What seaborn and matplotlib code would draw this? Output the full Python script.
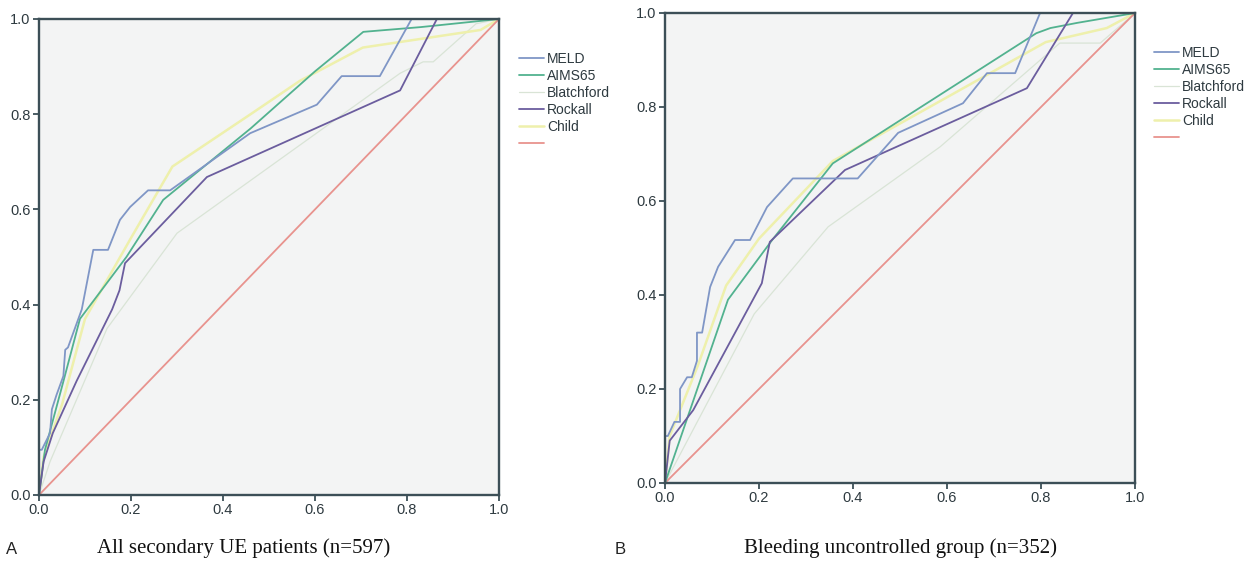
import matplotlib
matplotlib.use("Agg")
import matplotlib.pyplot as plt
import pandas as pd
import seaborn as sns

# ROC curves: (1 - specificity, sensitivity)
curve_names = ["MELD", "AIMS65", "Blatchford", "Rockall", "Child", ""]
curve_colors = ["#7f96c6", "#52b28f", "#d9e4d6", "#6b5d9e", "#eef0ac", "#e8938e"]
curve_widths = [1.3, 1.3, 0.9, 1.3, 1.8, 1.3]

# Panel A: all secondary UE patients
meld_a_fpr = [0, 0, 0.006, 0.024, 0.028, 0.038, 0.053, 0.057, 0.063, 0.093, 0.118, 0.15,
              0.176, 0.198, 0.237, 0.285, 0.459, 0.604, 0.658, 0.741, 0.81, 1.0]
meld_a_tpr = [0, 0.095, 0.095, 0.13, 0.18, 0.21, 0.25, 0.305, 0.31, 0.39, 0.515, 0.515,
              0.578, 0.605, 0.64, 0.64, 0.76, 0.82, 0.88, 0.88, 1.0, 1.0]
aims_a_fpr = [0, 0.013, 0.052, 0.089, 0.19, 0.27, 0.46, 0.6, 0.705, 0.83, 1.0]
aims_a_tpr = [0, 0.095, 0.235, 0.37, 0.5, 0.62, 0.77, 0.89, 0.973, 0.983, 1.0]
blat_a_fpr = [0, 0.024, 0.148, 0.3, 0.785, 0.835, 0.857, 0.95, 1.0]
blat_a_tpr = [0, 0.07, 0.35, 0.55, 0.886, 0.91, 0.91, 0.99, 1.0]
rock_a_fpr = [0, 0.01, 0.03, 0.082, 0.159, 0.175, 0.187, 0.365, 0.785, 0.865, 1.0]
rock_a_tpr = [0, 0.07, 0.13, 0.24, 0.39, 0.43, 0.487, 0.668, 0.85, 1.0, 1.0]
child_a_fpr = [0, 0.01, 0.05, 0.1, 0.2, 0.29, 0.46, 0.567, 0.704, 0.96, 1.0]
child_a_tpr = [0, 0.08, 0.19, 0.37, 0.54, 0.69, 0.80, 0.87, 0.94, 0.977, 1.0]

# Panel B: bleeding uncontrolled group
meld_b_fpr = [0, 0, 0.006, 0.02, 0.032, 0.032, 0.047, 0.057, 0.068, 0.068, 0.079, 0.096,
              0.113, 0.149, 0.181, 0.217, 0.272, 0.41, 0.496, 0.634, 0.685, 0.745, 0.798, 1.0]
meld_b_tpr = [0, 0.1, 0.1, 0.13, 0.13, 0.2, 0.225, 0.225, 0.26, 0.32, 0.32, 0.417,
              0.46, 0.517, 0.517, 0.587, 0.648, 0.648, 0.745, 0.808, 0.872, 0.872, 1.0, 1.0]
aims_b_fpr = [0, 0.134, 0.228, 0.357, 0.79, 0.82, 0.877, 1.0]
aims_b_tpr = [0, 0.39, 0.517, 0.68, 0.957, 0.968, 0.979, 1.0]
blat_b_fpr = [0, 0.19, 0.347, 0.585, 0.84, 0.926, 1.0]
blat_b_tpr = [0, 0.36, 0.545, 0.715, 0.936, 0.936, 1.0]
rock_b_fpr = [0, 0.01, 0.06, 0.206, 0.223, 0.383, 0.77, 0.868, 1.0]
rock_b_tpr = [0, 0.09, 0.155, 0.425, 0.513, 0.666, 0.84, 1.0, 1.0]
child_b_fpr = [0, 0.01, 0.07, 0.13, 0.2, 0.357, 0.81, 0.94, 1.0]
child_b_tpr = [0, 0.1, 0.25, 0.42, 0.52, 0.685, 0.938, 0.968, 1.0]

ref_fpr = [0, 1]
ref_tpr = [0, 1]

ticks = [0.0, 0.2, 0.4, 0.6, 0.8, 1.0]
tick_labels = ["0.0", "0.2", "0.4", "0.6", "0.8", "1.0"]

panel_a = [(meld_a_fpr, meld_a_tpr), (aims_a_fpr, aims_a_tpr), (blat_a_fpr, blat_a_tpr),
           (rock_a_fpr, rock_a_tpr), (child_a_fpr, child_a_tpr), (ref_fpr, ref_tpr)]
panel_b = [(meld_b_fpr, meld_b_tpr), (aims_b_fpr, aims_b_tpr), (blat_b_fpr, blat_b_tpr),
           (rock_b_fpr, rock_b_tpr), (child_b_fpr, child_b_tpr), (ref_fpr, ref_tpr)]

sns.set_theme(style="white")
plt.rcParams["font.family"] = ["Liberation Sans", "DejaVu Sans"]

spine_col = "#3c4f57"
text_col = "#2e3a40"

fig = plt.figure(figsize=(12.51, 5.64), dpi=100)
ax_a = fig.add_axes([39 / 1251, 69 / 564, 460 / 1251, 476 / 564])
ax_b = fig.add_axes([665 / 1251, 81 / 564, 470 / 1251, 470 / 564])


def draw_panel(ax, curves, legend_xy):
    draw_order = [2, 4, 5, 1, 3, 0]
    handles = [None] * len(curves)
    for i in draw_order:
        fpr, tpr = curves[i]
        df = pd.DataFrame({"fpr": fpr, "tpr": tpr})
        sns.lineplot(data=df, x="fpr", y="tpr", ax=ax, sort=False, estimator=None,
                     color=curve_colors[i], linewidth=curve_widths[i])
        handles[i] = ax.get_lines()[-1]
    ax.set_facecolor("#f3f4f4")
    ax.set_xlim(0, 1)
    ax.set_ylim(0, 1)
    ax.set_xticks(ticks)
    ax.set_xticklabels(tick_labels)
    ax.set_yticks(ticks)
    ax.set_yticklabels(tick_labels)
    ax.set_xlabel("")
    ax.set_ylabel("")
    for s in ax.spines.values():
        s.set_color(spine_col)
        s.set_linewidth(1.7)
    ax.tick_params(axis="both", direction="out", length=4, width=1.3, color=spine_col,
                   labelsize=10.5, labelcolor=text_col, pad=2,
                   bottom=True, left=True, top=False, right=False)
    ax.legend(handles, curve_names, loc="upper left", bbox_to_anchor=legend_xy,
              bbox_transform=fig.transFigure, frameon=False, fontsize=10,
              handlelength=1.8, handletextpad=0.2, labelspacing=0.22,
              borderpad=0, borderaxespad=0, labelcolor=text_col)


draw_panel(ax_a, panel_a, (519 / 1251, 1 - 52 / 564))
draw_panel(ax_b, panel_b, (1154 / 1251, 1 - 46 / 564))

fig.text(6 / 1251, 1 - 549 / 564, "A", fontsize=12, color="#222222", va="center", ha="left")
fig.text(615 / 1251, 1 - 549 / 564, "B", fontsize=12, color="#222222", va="center", ha="left")
fig.text(244 / 1251, 1 - 548 / 564, "All secondary UE patients (n=597)", fontsize=15,
         family=["Liberation Serif", "DejaVu Serif"], color="#111111", va="center", ha="center")
fig.text(901 / 1251, 1 - 548 / 564, "Bleeding uncontrolled group (n=352)", fontsize=15,
         family=["Liberation Serif", "DejaVu Serif"], color="#111111", va="center", ha="center")

fig.savefig("out.png", dpi=100, facecolor="white")
